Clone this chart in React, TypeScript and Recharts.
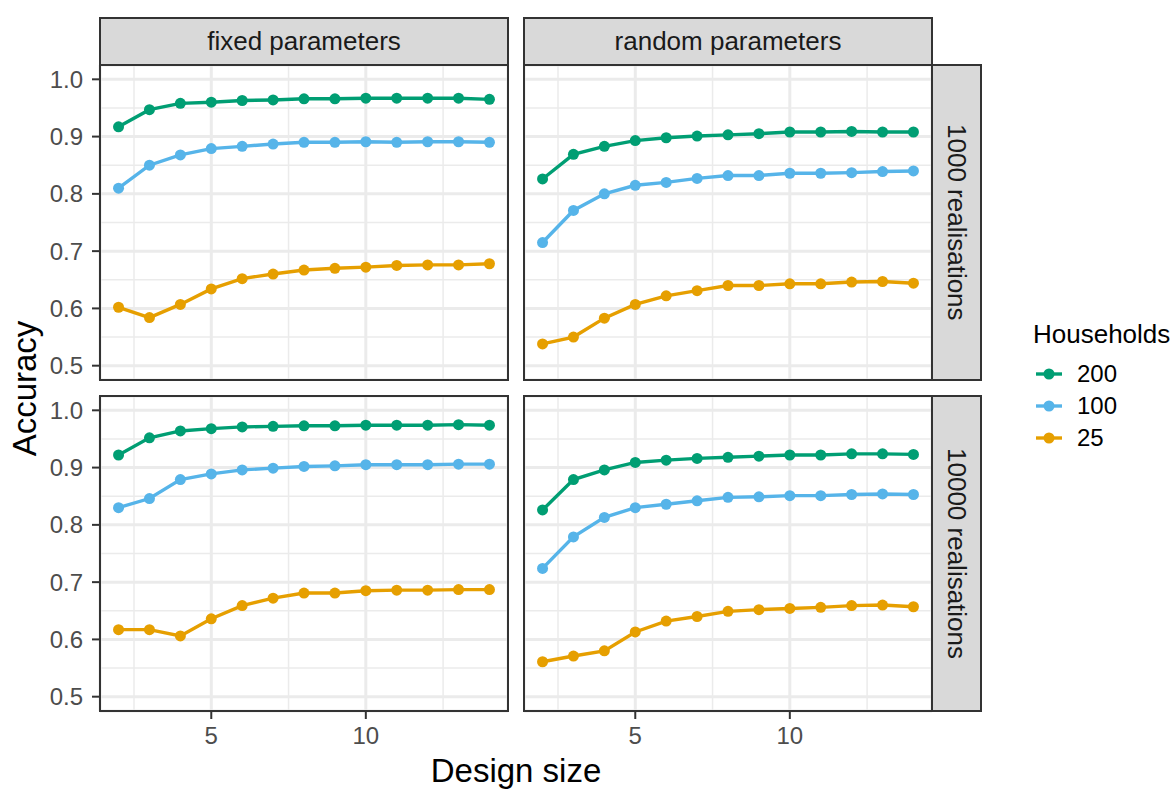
import { LineChart, Line, XAxis, YAxis, CartesianGrid } from 'recharts'

const GREEN = '#009E73'
const BLUE = '#56B4E9'
const ORANGE = '#E69F00'
const FONT = '"Liberation Sans", Arial, Helvetica, sans-serif'

// data
const DESIGN_SIZE = [2, 3, 4, 5, 6, 7, 8, 9, 10, 11, 12, 13, 14]
const X_TICKS = [5, 10]
const X_MINOR = [2.5, 7.5, 12.5]
const Y_TICKS = [0.5, 0.6, 0.7, 0.8, 0.9, 1.0]
const Y_MINOR = [0.55, 0.65, 0.75, 0.85, 0.95]
const X_DOMAIN = [1.4, 14.6]
const Y_DOMAIN = [0.475, 1.025]

const HOUSEHOLDS = ['200', '100', '25']
const COLORS = [GREEN, BLUE, ORANGE]

const fixed1000_200 = [0.917, 0.947, 0.958, 0.960, 0.963, 0.964, 0.966, 0.966, 0.967, 0.967, 0.967, 0.967, 0.965]
const fixed1000_100 = [0.810, 0.850, 0.868, 0.879, 0.883, 0.887, 0.890, 0.890, 0.891, 0.890, 0.891, 0.891, 0.890]
const fixed1000_25 = [0.602, 0.584, 0.607, 0.634, 0.652, 0.660, 0.667, 0.670, 0.672, 0.675, 0.676, 0.676, 0.678]

const random1000_200 = [0.826, 0.869, 0.883, 0.893, 0.898, 0.901, 0.903, 0.905, 0.908, 0.908, 0.909, 0.908, 0.908]
const random1000_100 = [0.715, 0.771, 0.800, 0.815, 0.820, 0.827, 0.832, 0.832, 0.836, 0.836, 0.837, 0.839, 0.840]
const random1000_25 = [0.538, 0.550, 0.583, 0.607, 0.622, 0.631, 0.640, 0.640, 0.643, 0.643, 0.646, 0.647, 0.644]

const fixed10000_200 = [0.922, 0.952, 0.964, 0.968, 0.971, 0.972, 0.973, 0.973, 0.974, 0.974, 0.974, 0.975, 0.974]
const fixed10000_100 = [0.830, 0.846, 0.879, 0.889, 0.896, 0.899, 0.902, 0.903, 0.905, 0.905, 0.905, 0.906, 0.906]
const fixed10000_25 = [0.617, 0.617, 0.606, 0.636, 0.659, 0.672, 0.681, 0.681, 0.685, 0.686, 0.686, 0.687, 0.687]

const random10000_200 = [0.826, 0.879, 0.896, 0.909, 0.913, 0.916, 0.918, 0.920, 0.922, 0.922, 0.924, 0.924, 0.923]
const random10000_100 = [0.724, 0.779, 0.813, 0.830, 0.836, 0.842, 0.848, 0.849, 0.851, 0.851, 0.853, 0.854, 0.853]
const random10000_25 = [0.561, 0.571, 0.580, 0.613, 0.632, 0.640, 0.649, 0.652, 0.654, 0.656, 0.659, 0.660, 0.657]

function rows(s200: number[], s100: number[], s25: number[]) {
  return DESIGN_SIZE.map((size, i) => ({ size, h200: s200[i], h100: s100[i], h25: s25[i] }))
}

const PANEL_W = 408
const PANEL_H = 315
const Y_AXIS_W = 100
const X_AXIS_H = 40
const SERIES_KEYS = ['h200', 'h100', 'h25']

function Panel({ data, left, top, showX, showY }: { data: any[]; left: number; top: number; showX: boolean; showY: boolean }) {
  const yw = showY ? Y_AXIS_W : 0
  const w = PANEL_W + yw
  const h = PANEL_H + (showX ? X_AXIS_H : 0)
  const tick = { fontSize: 24, fill: '#4D4D4D', fontFamily: FONT }
  return (
    <div style={{ position: 'absolute', left: left - yw, top, width: w, height: h }}>
      <LineChart width={w} height={h} data={data} margin={{ top: 0, right: 0, bottom: 0, left: 0 }}>
        <XAxis xAxisId="minor" type="number" dataKey="size" domain={X_DOMAIN} ticks={X_MINOR} allowDataOverflow hide />
        <YAxis yAxisId="minor" type="number" domain={Y_DOMAIN} ticks={Y_MINOR} allowDataOverflow hide />
        <CartesianGrid xAxisId="minor" yAxisId="minor" stroke="#EBEBEB" strokeWidth={1.5} />
        <CartesianGrid stroke="#EBEBEB" strokeWidth={3} />
        <XAxis type="number" dataKey="size" domain={X_DOMAIN} ticks={X_TICKS} allowDataOverflow
          hide={!showX} height={X_AXIS_H} axisLine={false} tickSize={8} tickMargin={8}
          tickLine={{ stroke: '#333333', strokeWidth: 2 }} tick={tick} />
        <YAxis type="number" domain={Y_DOMAIN} ticks={Y_TICKS} allowDataOverflow
          hide={!showY} width={Y_AXIS_W} axisLine={false} tickSize={8} tickMargin={9}
          tickLine={{ stroke: '#333333', strokeWidth: 2 }} tick={tick} tickFormatter={(v) => v.toFixed(1)} />
        {SERIES_KEYS.map((k, i) => (
          <Line key={k} dataKey={k} type="linear" stroke={COLORS[i]} strokeWidth={3.4}
            dot={{ r: 5.5, fill: COLORS[i], stroke: COLORS[i], strokeWidth: 0 }} activeDot={false}
            isAnimationActive={false} />
        ))}
      </LineChart>
      <div style={{ position: 'absolute', left: yw - 1, top: -1, width: PANEL_W + 2, height: PANEL_H + 2,
        border: '2px solid #333333', boxSizing: 'border-box', pointerEvents: 'none' }} />
    </div>
  )
}

function TopStrip({ left, label }: { left: number; label: string }) {
  return (
    <div style={{ position: 'absolute', left: left - 1, top: 17, width: PANEL_W + 2, height: 49,
      background: '#D9D9D9', border: '2px solid #333333', boxSizing: 'border-box',
      display: 'flex', alignItems: 'center', justifyContent: 'center',
      fontFamily: FONT, fontSize: 26, color: '#1A1A1A' }}>
      {label}
    </div>
  )
}

function SideStrip({ top, label }: { top: number; label: string }) {
  return (
    <div style={{ position: 'absolute', left: 931, top: top - 1, width: 51, height: PANEL_H + 2,
      background: '#D9D9D9', border: '2px solid #333333', boxSizing: 'border-box',
      display: 'flex', alignItems: 'center', justifyContent: 'center',
      fontFamily: FONT, fontSize: 26, color: '#1A1A1A', writingMode: 'vertical-rl' }}>
      {label}
    </div>
  )
}

export default function App() {
  return (
    <div style={{ position: 'absolute', left: 0, top: 0, width: 1175, height: 789, background: '#fff', overflow: 'hidden' }}>
      <TopStrip left={100} label="fixed parameters" />
      <TopStrip left={524} label="random parameters" />
      <Panel data={rows(fixed1000_200, fixed1000_100, fixed1000_25)} left={100} top={65} showX={false} showY />
      <Panel data={rows(random1000_200, random1000_100, random1000_25)} left={524} top={65} showX={false} showY={false} />
      <Panel data={rows(fixed10000_200, fixed10000_100, fixed10000_25)} left={100} top={396} showX showY />
      <Panel data={rows(random10000_200, random10000_100, random10000_25)} left={524} top={396} showX showY={false} />
      <SideStrip top={65} label="1000 realisations" />
      <SideStrip top={396} label="10000 realisations" />

      <div style={{ position: 'absolute', left: 24 - 150, top: 388 - 16.5, width: 300, height: 33, lineHeight: '33px',
        textAlign: 'center', fontFamily: FONT, fontSize: 33, color: '#000', transform: 'rotate(-90deg)' }}>
        Accuracy
      </div>
      <div style={{ position: 'absolute', left: 516 - 150, top: 754, width: 300, height: 33, lineHeight: '33px',
        textAlign: 'center', fontFamily: FONT, fontSize: 33, color: '#000' }}>
        Design size
      </div>

      <div style={{ position: 'absolute', left: 1033, top: 319, fontFamily: FONT, fontSize: 26, color: '#000', lineHeight: '30px' }}>
        Households
      </div>
      {HOUSEHOLDS.map((h, i) => (
        <div key={h} style={{ position: 'absolute', left: 1034, top: 374 + i * 32.2 - 15, height: 30, display: 'flex', alignItems: 'center' }}>
          <svg width={30} height={30}>
            <line x1={2} y1={15} x2={28} y2={15} stroke={COLORS[i]} strokeWidth={3.4} />
            <circle cx={15} cy={15} r={5.5} fill={COLORS[i]} />
          </svg>
          <span style={{ marginLeft: 13, fontFamily: FONT, fontSize: 24, color: '#000' }}>{h}</span>
        </div>
      ))}
    </div>
  )
}
